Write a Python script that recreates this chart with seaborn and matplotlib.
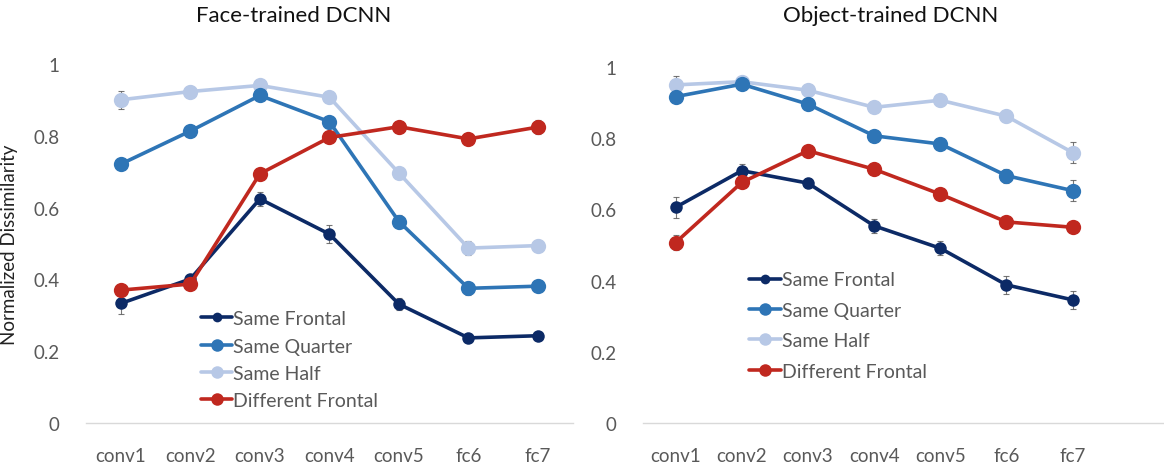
import seaborn as sns
import matplotlib.pyplot as plt
from matplotlib.lines import Line2D
import pandas as pd

# Data
layers = ['conv1', 'conv2', 'conv3', 'conv4', 'conv5', 'fc6', 'fc7']
conditions = ['Same Frontal', 'Same Quarter', 'Same Half', 'Different Frontal']

face_frontal = [0.333, 0.401, 0.624, 0.526, 0.331, 0.237, 0.243]
face_quarter = [0.721, 0.813, 0.912, 0.839, 0.561, 0.375, 0.381]
face_half = [0.900, 0.923, 0.940, 0.907, 0.696, 0.487, 0.494]
face_diff = [0.370, 0.387, 0.694, 0.795, 0.825, 0.791, 0.824]

face_frontal_err = [0.030, 0.015, 0.020, 0.025, 0.017, 0.005, 0.005]
face_quarter_err = [0.012, 0.010, 0.010, 0.010, 0.018, 0.018, 0.010]
face_half_err = [0.025, 0.015, 0.005, 0.005, 0.012, 0.020, 0.015]
face_diff_err = [0.015, 0.010, 0.010, 0.010, 0.010, 0.010, 0.020]

obj_frontal = [0.606, 0.709, 0.674, 0.554, 0.491, 0.388, 0.346]
obj_quarter = [0.917, 0.952, 0.896, 0.807, 0.784, 0.695, 0.653]
obj_half = [0.950, 0.959, 0.935, 0.887, 0.907, 0.862, 0.760]
obj_diff = [0.507, 0.676, 0.765, 0.713, 0.643, 0.565, 0.550]

obj_frontal_err = [0.030, 0.020, 0.015, 0.020, 0.020, 0.025, 0.025]
obj_quarter_err = [0.015, 0.008, 0.008, 0.010, 0.010, 0.020, 0.030]
obj_half_err = [0.025, 0.008, 0.008, 0.008, 0.015, 0.015, 0.030]
obj_diff_err = [0.020, 0.010, 0.010, 0.010, 0.010, 0.010, 0.010]

palette = {'Same Frontal': '#0c2a66', 'Same Quarter': '#2e75b6',
           'Same Half': '#b7c8e6', 'Different Frontal': '#c0281f'}
TEXT = '#595959'

sns.set_style('white')
plt.rcParams['font.family'] = ['Lato', 'DejaVu Sans']


def build_df(series, errs):
    rows = []
    for cond, vals, err in zip(conditions, series, errs):
        for layer, v, e in zip(layers, vals, err):
            rows.append({'layer': layer, 'condition': cond, 'value': v, 'err': e})
    return pd.DataFrame(rows)


face_df = build_df([face_frontal, face_quarter, face_half, face_diff],
                   [face_frontal_err, face_quarter_err, face_half_err, face_diff_err])
obj_df = build_df([obj_frontal, obj_quarter, obj_half, obj_diff],
                  [obj_frontal_err, obj_quarter_err, obj_half_err, obj_diff_err])

fig = plt.figure(figsize=(11.64, 4.64), dpi=100)
ax1 = fig.add_axes([0.074, 0.0862, 0.418, 0.774])
ax2 = fig.add_axes([0.552, 0.0862, 0.448, 0.767])

draw_order = ['Same Half', 'Same Quarter', 'Same Frontal', 'Different Frontal']

for ax, df in ((ax1, face_df), (ax2, obj_df)):
    for z, cond in enumerate(draw_order):
        sub = df[df.condition == cond]
        ms = 9 if cond == 'Same Frontal' else 11
        ax.errorbar(sub['layer'], sub['value'], yerr=sub['err'], fmt='none',
                    ecolor='#555555', elinewidth=0.8, capsize=2.5, capthick=0.8,
                    zorder=2 + 2 * z, alpha=0.8)
        sns.lineplot(data=sub, x='layer', y='value', color=palette[cond], lw=2.6,
                     marker='o', markersize=ms, markeredgewidth=0, sort=False,
                     ax=ax, zorder=3 + 2 * z, legend=False)
    ax.set_ylim(0, 1)
    ax.set_yticks([0, 0.2, 0.4, 0.6, 0.8, 1])
    ax.set_yticklabels(['0', '0.2', '0.4', '0.6', '0.8', '1'])
    ax.set_xlabel('')
    ax.set_ylabel('')
    ax.tick_params(axis='both', length=0, labelsize=13.5, colors=TEXT)
    ax.tick_params(axis='y', pad=19)
    ax.tick_params(axis='x', pad=17)
    for s in ('top', 'right', 'left'):
        ax.spines[s].set_visible(False)
    ax.spines['bottom'].set_color('#d9d9d9')
    ax.spines['bottom'].set_linewidth(1)
    ax.set_facecolor('none')

ax1.set_xlim(-0.5, 6.5)
ax2.set_xlim(-0.5, 7.38)
ax1.set_ylabel('Normalized Dissimilarity', fontsize=13.5, color='#222222', labelpad=11)

handles = [Line2D([0], [0], color=palette[c], lw=2.6, marker='o',
                  markersize=(7 if c == 'Same Frontal' else 9), markeredgewidth=0)
           for c in conditions]
ax1.legend(handles, conditions, loc='upper left', bbox_to_anchor=(0.236, 0.314),
           frameon=False, fontsize=14, handlelength=1.6, handletextpad=0.05,
           labelspacing=0.53, labelcolor=TEXT, borderaxespad=0, borderpad=0)
ax2.legend(handles, conditions, loc='upper left', bbox_to_anchor=(0.205, 0.426),
           frameon=False, fontsize=14, handlelength=1.6, handletextpad=0.05,
           labelspacing=0.69, labelcolor=TEXT, borderaxespad=0, borderpad=0)

fig.text(0.252, 0.966, 'Face-trained DCNN', ha='center', va='center', fontsize=16, color='#111111')
fig.text(0.765, 0.966, 'Object-trained DCNN', ha='center', va='center', fontsize=16, color='#111111')

fig.savefig('out.png', dpi=100)
